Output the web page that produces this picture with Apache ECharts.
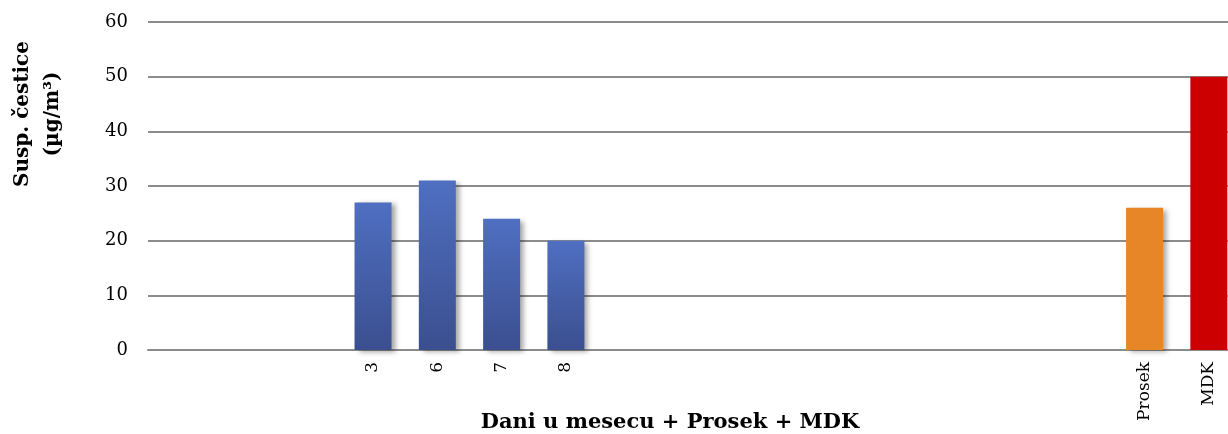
<!DOCTYPE html>
<html>
<head>
<meta charset="utf-8">
<script src="https://cdn.jsdelivr.net/npm/echarts@6/dist/echarts.min.js"></script>
<style>
  html, body { margin: 0; padding: 0; background: #fff; overflow: hidden; }
  #main { width: 1241px; height: 434px; }
</style>
</head>
<body>
<div id="main"></div>
<script>
// categories along the x axis (empty slots are days without measurements)
var categories = ['', '', '', '3', '6', '7', '8', '', '', '', '', '', '', '', '', 'Prosek', 'MDK'];
// measured days and their values
var days = ['3', '6', '7', '8'];
var dayValues = [27, 31, 24, 20];
var prosek = 26;
var mdk = 50;

var font = '"DejaVu Serif", "Liberation Serif", serif';

var blueGrad = new echarts.graphic.LinearGradient(0, 0, 0, 1, [
  { offset: 0, color: '#4f6fc1' },
  { offset: 1, color: '#3b4f8f' }
]);
var shadow = { shadowBlur: 5, shadowOffsetX: 4, shadowOffsetY: 2, shadowColor: 'rgba(0,0,0,0.35)' };

var data = categories.map(function (c) {
  var i = days.indexOf(c);
  if (i >= 0) return { value: dayValues[i], itemStyle: Object.assign({ color: blueGrad }, shadow) };
  if (c === 'Prosek') return { value: prosek, itemStyle: Object.assign({ color: '#e68626' }, shadow) };
  if (c === 'MDK') return { value: mdk, itemStyle: { color: '#cc0000' } };
  return null;
});

var myChart = echarts.init(document.getElementById('main'));
var option = {
  animation: false,
  grid: { left: 148, right: 0, top: 22, bottom: 84 },
  xAxis: {
    type: 'category',
    data: categories,
    axisLine: { lineStyle: { color: '#8c8c8c', width: 2 } },
    axisTick: { show: false },
    axisLabel: { rotate: 90, interval: 0, margin: 12, fontFamily: font, fontSize: 17, color: '#000' }
  },
  yAxis: {
    type: 'value',
    min: 0, max: 60, interval: 10,
    axisLine: { show: false },
    axisTick: { show: false },
    axisLabel: { margin: 20, fontFamily: font, fontSize: 18, color: '#000' },
    splitLine: { lineStyle: { color: '#8c8c8c', width: 2 } }
  },
  graphic: [{
    type: 'text',
    x: 38, y: 114,
    rotation: Math.PI / 2,
    style: {
      text: 'Susp. čestice\n(µg/m³)',
      font: 'bold 20px ' + font,
      lineHeight: 30,
      fill: '#000',
      align: 'center',
      verticalAlign: 'middle'
    }
  }, {
    type: 'text',
    x: 670, y: 423,
    style: {
      text: 'Dani u mesecu + Prosek + MDK',
      font: 'bold 21px ' + font,
      fill: '#000',
      align: 'center',
      verticalAlign: 'middle'
    }
  }],
  series: [{
    type: 'bar',
    barWidth: 37,
    data: data
  }]
};
myChart.setOption(option);
</script>
</body>
</html>
